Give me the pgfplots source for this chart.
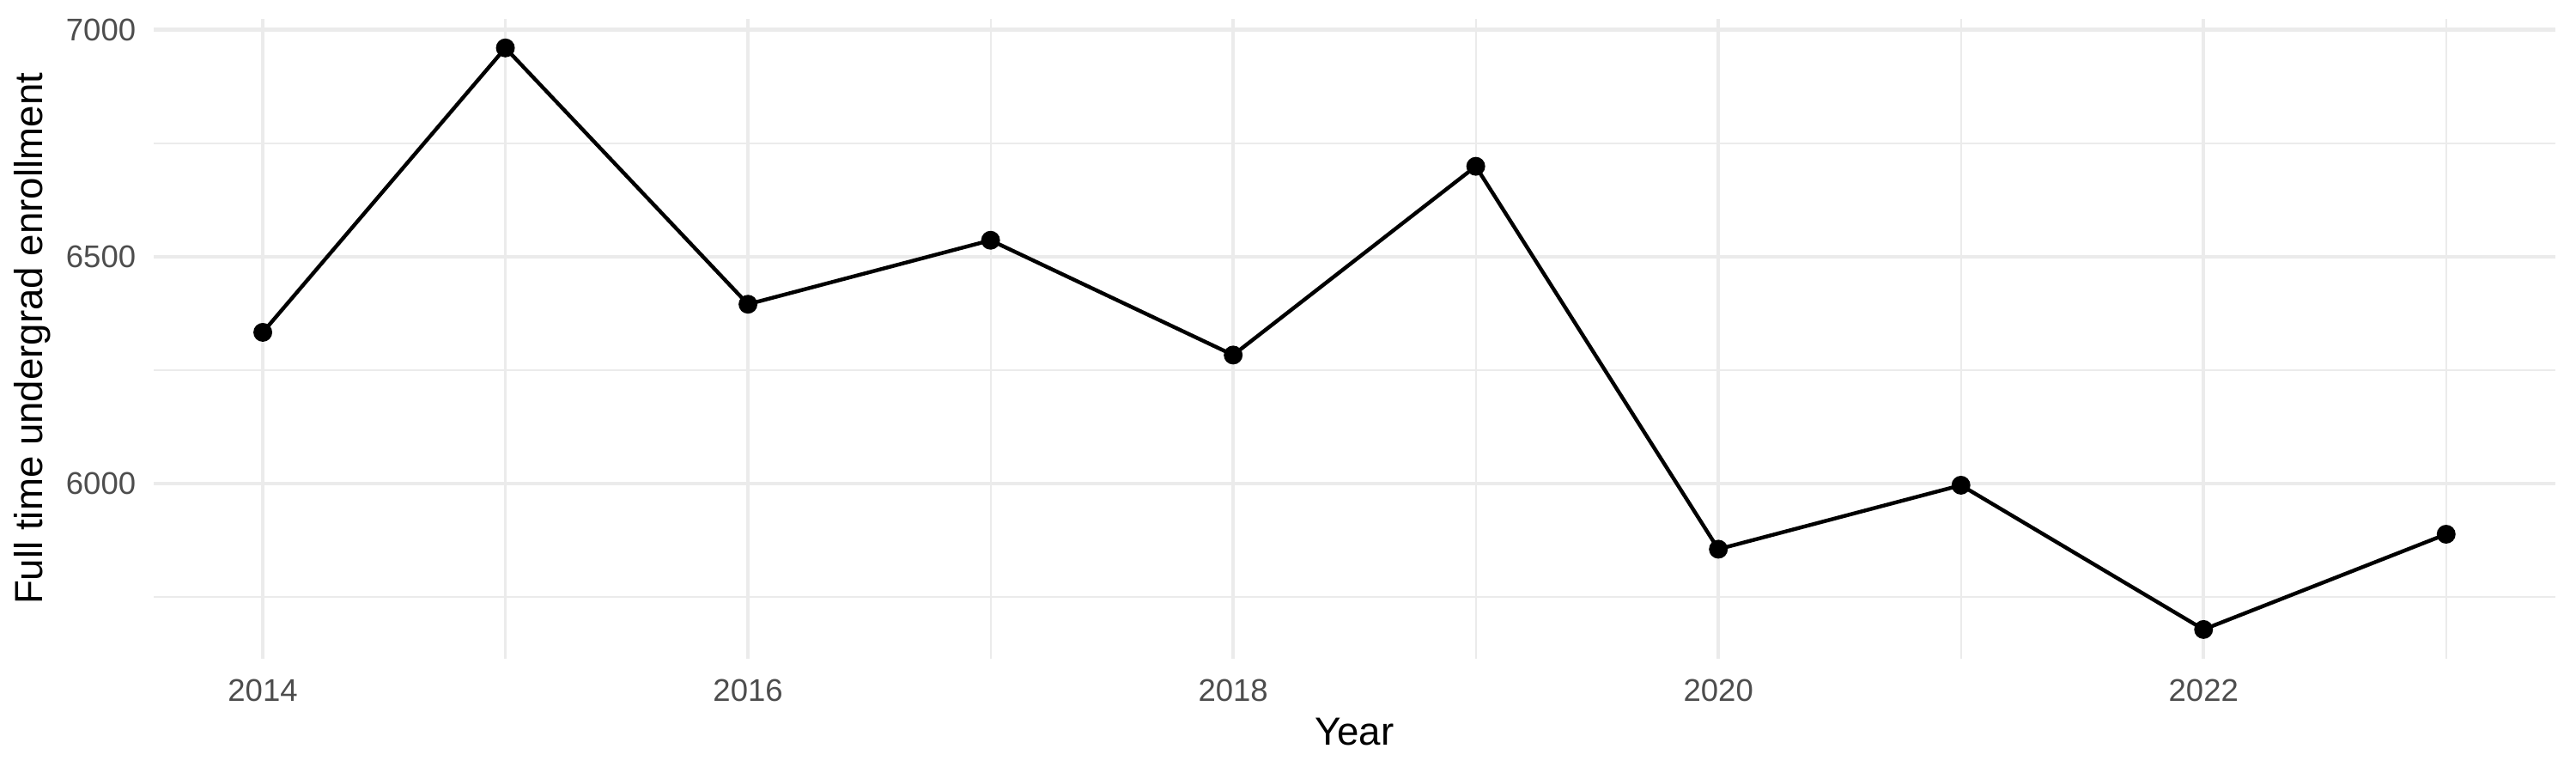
\documentclass[border=0pt]{standalone}
\usepackage{fontspec}
\setmainfont{Liberation Sans}
\usepackage{pgfplots}
\pgfplotsset{compat=1.18}
\definecolor{gridgray}{HTML}{EBEBEB}
\definecolor{ticktext}{HTML}{4D4D4D}
\begin{document}
\begin{tikzpicture}
\path[use as bounding box] (0,0) rectangle (722.7pt,216.8pt);
\begin{axis}[
  at={(43.1pt,32.1pt)}, anchor=south west,
  scale only axis, width=673.8pt, height=179.4pt,
  xmin=2013.55, xmax=2023.45, ymin=5614, ymax=7024,
  axis line style={draw=none},
  major tick length=0pt, minor tick length=0pt,
  xtick={2014,2016,2018,2020,2022},
  minor xtick={2015,2017,2019,2021,2023},
  ytick={6000,6500,7000},
  minor ytick={5750,6250,6750},
  grid=both,
  major grid style={gridgray, line width=1.07pt},
  minor grid style={gridgray, line width=0.53pt},
  /pgf/number format/1000 sep={},
  /pgf/number format/assume math mode=true,
  ticklabel style={font=\fontsize{8.8}{10}\selectfont, text=ticktext},
  xticklabel style={anchor=north, inner sep=0pt, yshift=-5.6pt},
  yticklabel style={anchor=east, inner sep=0pt, xshift=-4.8pt},
  xlabel={Year},
  ylabel={Full time undergrad enrollment},
  label style={font=\fontsize{11}{13}\selectfont},
  xlabel style={at={(axis description cs:0.5,0)}, anchor=base, yshift=-24.4pt},
  ylabel style={at={(axis description cs:0,0.5)}, anchor=center, rotate=0, yshift=33.9pt},
  clip=false,
]
\addplot[black, line width=1.07pt, mark=*, mark size=2.1pt] coordinates {
  (2014,6333) (2015,6960) (2016,6395) (2017,6536) (2018,6283)
  (2019,6699) (2020,5855) (2021,5996) (2022,5678) (2023,5888)
};
\end{axis}
\end{tikzpicture}
\end{document}
